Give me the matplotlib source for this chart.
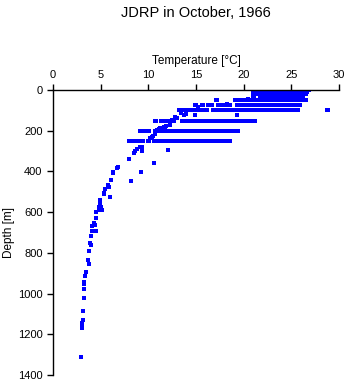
import matplotlib
matplotlib.use("Agg")
import matplotlib.pyplot as plt

plt.rcParams['font.family'] = ['Liberation Sans', 'DejaVu Sans']

# standard-depth rows [m] and their temperatures [degC]
row_depths = [0, 10, 20, 30, 50, 75, 100, 150, 200, 250]
t_0m = [21.0, 21.15, 21.3, 21.75, 22.0, 22.25, 22.5, 22.75, 23.0, 23.25, 23.5, 23.75,
        24.0, 24.25, 24.5, 24.75, 25.0, 25.25, 25.5, 25.75, 26.0, 26.25, 26.5, 26.7]
t_10m = [21.0, 21.3, 21.8, 22.05, 22.3, 22.55, 22.8, 23.05, 23.3, 23.55, 23.8, 24.05,
         24.3, 24.55, 24.8, 25.05, 25.3, 25.55, 25.8, 26.05, 26.3, 26.5]
t_20m = [21.0, 21.2, 21.7, 21.95, 22.2, 22.45, 22.7, 22.9, 23.2, 23.45, 23.7, 23.95,
         24.2, 24.45, 24.7, 24.95, 25.2, 25.45, 25.7, 25.95, 26.2, 26.4]
t_30m = [21.0, 21.7, 22.0, 22.3, 22.6, 23.1, 23.4, 23.7, 24.0, 24.3, 24.6, 24.9,
         25.2, 25.5, 25.8, 26.1]
t_50m = [17.1, 19.1, 19.6, 20.0, 20.3, 20.5, 20.8, 21.0, 21.2, 21.45, 21.7, 21.95,
         22.2, 22.45, 22.7, 22.95, 23.2, 23.45, 23.7, 23.95, 24.2, 24.45, 24.7, 24.95,
         25.2, 25.45, 25.7, 25.95, 26.2, 26.45]
t_75m = [14.9, 15.6, 16.3, 16.6, 17.3, 17.6, 17.9, 18.2, 18.5, 19.3, 19.6, 19.9,
         20.15, 20.4, 20.65, 20.9, 21.15, 21.4, 21.65, 21.9, 22.15, 22.4, 22.65, 22.9,
         23.15, 23.4, 23.65, 23.9, 24.15, 24.4, 24.65, 24.9, 25.15, 25.4, 25.65, 25.85]
t_100m = [13.25, 13.5, 13.8, 14.0, 14.3, 14.6, 14.9, 15.3, 15.6, 16.1, 16.8, 17.2,
          17.5, 17.75, 18.0, 18.25, 18.5, 18.75, 19.0, 19.25, 19.5, 19.75, 20.0, 20.25,
          20.5, 20.75, 21.0, 21.25, 21.5, 21.75, 22.0, 22.25, 22.5, 22.75, 23.0, 23.25,
          23.5, 23.75, 24.0, 24.25, 24.5, 25.0, 25.3, 25.6, 28.7]
t_150m = [10.7, 11.3, 11.75, 11.9, 12.3, 12.6, 13.5, 13.8, 14.2, 14.7, 15.1, 15.35,
          15.6, 15.85, 16.1, 16.35, 16.6, 16.85, 17.1, 17.35, 17.6, 17.85, 18.1, 18.35,
          18.6, 18.85, 19.1, 19.35, 19.6, 19.85, 20.1, 20.35, 20.6, 20.85, 21.1]
t_200m = [9.1, 9.35, 9.6, 10.0, 10.7, 10.95, 11.2, 11.5, 11.8, 12.05, 12.3, 12.55,
          12.8, 13.05, 13.3, 13.55, 13.8, 14.05, 14.3, 14.55, 14.8, 15.05, 15.3, 15.55,
          15.8, 16.05, 16.3, 16.55, 16.8, 17.05, 17.3, 17.55, 17.8, 18.05, 18.3, 18.55,
          18.8, 19.05, 19.3]
t_250m = [8.0, 8.2, 8.4, 8.95, 9.3, 10.0, 10.6, 10.85, 11.1, 11.35, 11.6, 11.85,
          12.1, 12.55, 12.8, 13.05, 13.3, 13.55, 13.8, 14.05, 14.3, 14.55, 14.8, 15.05,
          15.3, 15.55, 15.8, 16.05, 16.3, 16.55, 16.8, 17.05, 17.3, 17.55, 17.8, 18.05,
          18.3, 18.45]
row_temps = [t_0m, t_10m, t_20m, t_30m, t_50m, t_75m, t_100m, t_150m, t_200m, t_250m]

# single casts between / below the standard rows
other_temp = [20.5, 18.2, 15.25, 19.3, 14.9, 13.7, 14.0, 13.4, 12.8, 13.0, 12.5,
              12.3, 11.9, 11.6, 11.75, 11.2, 11.1, 10.9, 10.7, 10.5, 10.35, 10.2,
              9.3, 9.1, 8.8, 8.6, 9.3, 12.1, 8.5, 8.0,
              6.85, 6.75, 10.6, 6.25, 6.3, 9.25, 6.1, 8.15, 5.75, 5.9, 5.5, 5.3,
              5.4, 6.0, 4.95, 4.9, 4.8, 5.0, 5.1, 4.8, 4.5, 4.55, 4.3, 4.4, 4.1,
              4.1, 4.55, 3.95, 3.9, 3.95, 3.75, 3.7, 3.8, 3.5, 3.4, 3.3, 3.3, 3.3,
              3.3, 3.15, 3.1, 3.05, 3.05, 3.05, 2.95]
other_depth = [44, 70, 82, 124, 123, 121, 117, 113, 131, 139, 145,
               172, 178, 184, 188, 188, 192, 196, 216, 226, 233, 238,
               278, 281, 291, 298, 298, 296, 311, 339,
               377, 385, 360, 401, 409, 404, 442, 448, 467, 478, 488, 504,
               511, 527, 542, 557, 573, 576, 591, 591, 601, 627, 652, 665, 670,
               693, 694, 717, 753, 763, 792, 835, 855, 895, 914, 945, 955, 979,
               1020, 1087, 1130, 1143, 1154, 1167, 1313]

# flat little box: rows read as solid ~3 px bands, like the original plot
flat_box = [(-1.5, -1.0), (1.5, -1.0), (1.5, 1.0), (-1.5, 1.0), (-1.5, -1.0)]

fig = plt.figure(figsize=(3.48, 3.84), dpi=100)
ax = fig.add_axes([53 / 348, 9 / 384, 286 / 348, 285 / 384])

for d, temps in zip(row_depths, row_temps):
    ax.plot(temps, [d] * len(temps), linestyle='none', marker=flat_box,
            color='#0000ff', markersize=3.6, markeredgewidth=0)
ax.plot(other_temp, other_depth, 's', color='#0000ff', markersize=2.2,
        markeredgewidth=0)

ax.set_xlim(0, 30)
ax.set_ylim(1400, 0)
ax.set_xticks(range(0, 31, 5))
ax.set_yticks(range(0, 1401, 200))
ax.xaxis.tick_top()
ax.xaxis.set_label_position('top')
ax.spines['right'].set_visible(False)
ax.spines['bottom'].set_visible(False)
for s in ['top', 'left']:
    ax.spines[s].set_linewidth(1.0)
ax.tick_params(direction='out', length=4, width=1.0, labelsize=8, pad=3.5,
               colors='black')
ax.set_xlabel('Temperature [°C]', fontsize=8.5, labelpad=4)
ax.set_ylabel('Depth [m]', fontsize=8.5, labelpad=2)

fig.text(196 / 348, 1 - 13 / 384, 'JDRP in October, 1966', ha='center',
         va='center', fontsize=10.5)

fig.savefig('out.png', dpi=100)
